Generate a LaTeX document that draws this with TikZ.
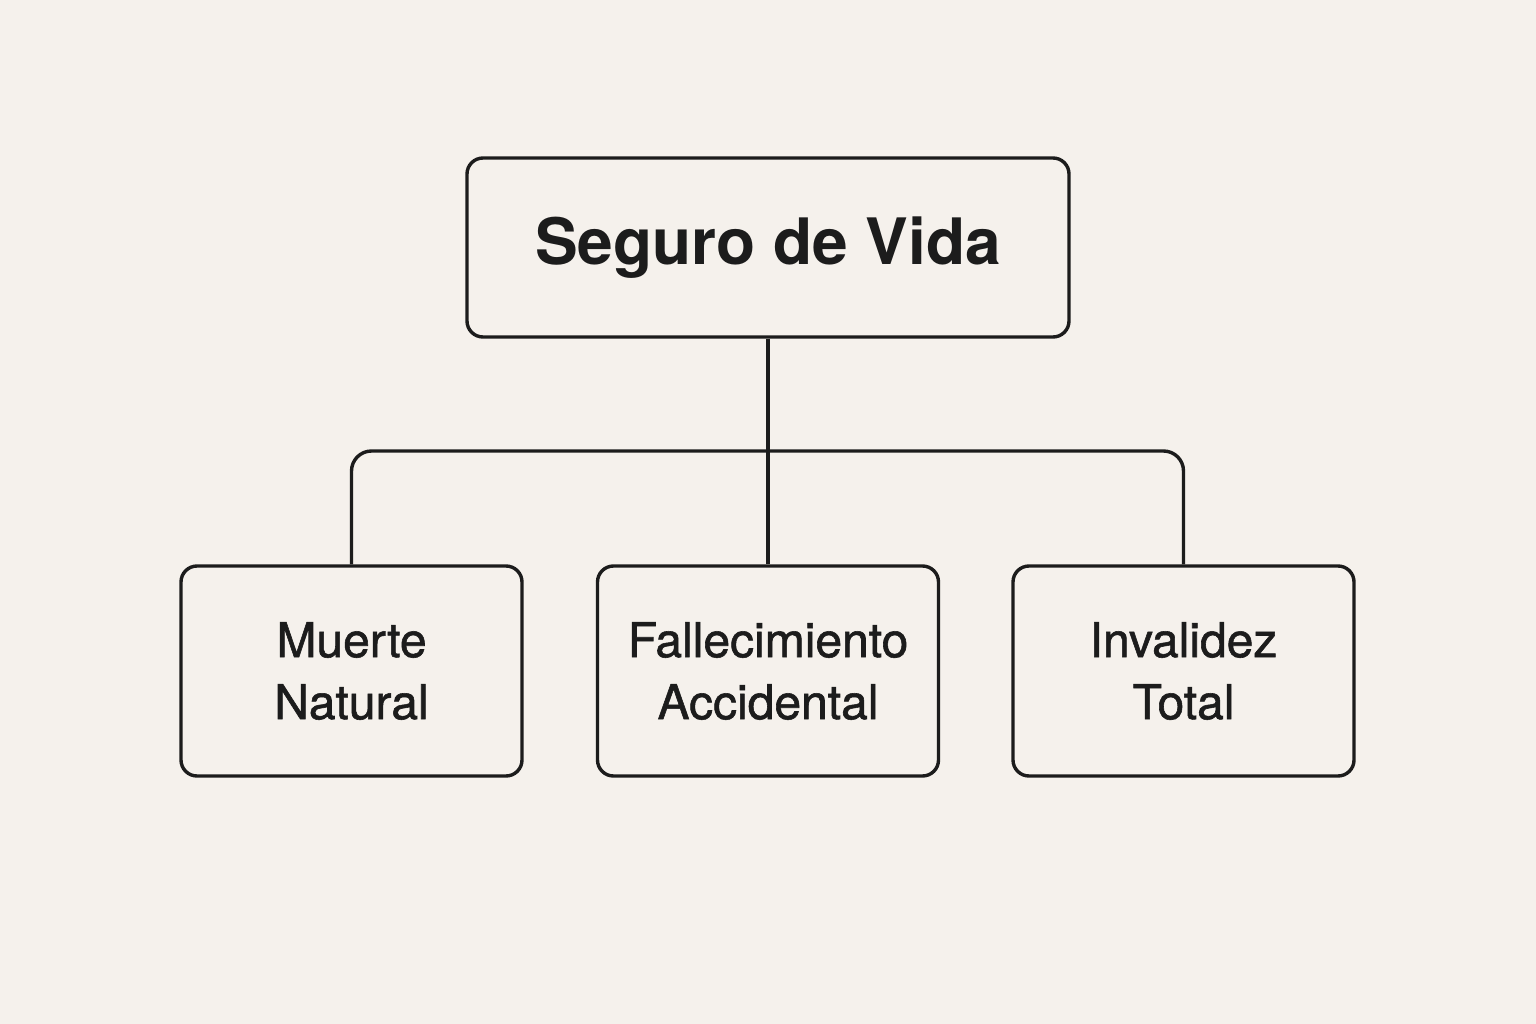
\documentclass[tikz,border=0pt]{standalone}
\usepackage{fontspec}
\setmainfont{TeX Gyre Heros}
\newfontfamily\medfont[FakeBold=1.2]{TeX Gyre Heros}
\definecolor{bg}{HTML}{F5F1EC}
\definecolor{ink}{HTML}{1C1C1C}
\begin{document}
\begin{tikzpicture}[x=1pt,y=-1pt,
  box/.style={draw=ink,line width=3.4pt,rounded corners=16pt,inner sep=0pt,text=ink,align=center},
  sub/.style={box,minimum width=341pt,minimum height=210pt,font=\medfont\fontsize{48}{62}\selectfont},
  link/.style={draw=ink,line width=3.4pt,rounded corners=20pt}]
\fill[bg] (0,0) rectangle (1536,1024);
\useasboundingbox (0,0) rectangle (1536,1024);
\node[box,minimum width=602pt,minimum height=179pt,font=\bfseries\fontsize{64}{70}\selectfont] (top) at (768,247.5) {Seguro de Vida};
\node[sub] (a) at (351.5,671) {Muerte\\Natural};
\node[sub] (b) at (768,671) {Fallecimiento\\Accidental};
\node[sub] (c) at (1183.5,671) {Invalidez\\Total};
\coordinate (j) at (768,451);
\draw[link] (top.south) -- (b.north);
\draw[link] (a.north) -- (a.north |- j) -- (c.north |- j) -- (c.north);
\end{tikzpicture}
\end{document}
